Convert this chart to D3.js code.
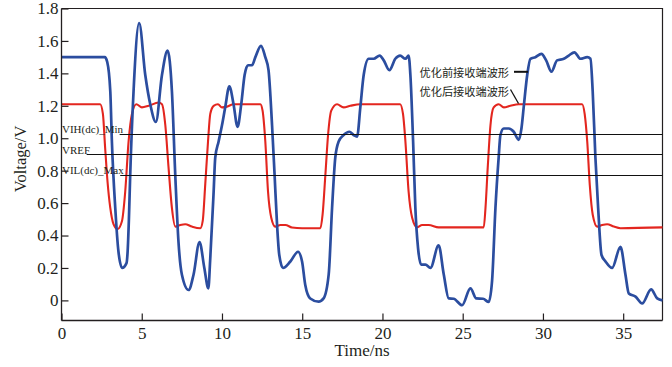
<!DOCTYPE html>
<html><head><meta charset="utf-8">
<script src="https://cdn.jsdelivr.net/npm/d3@7"></script>
<style>
html,body{margin:0;padding:0;background:#fff;}
svg{display:block;}
</style></head>
<body>
<svg id="chart" width="672" height="367"></svg>
<script>
// ---- data ----
const tBlue = [0,2.7,2.85,3.04,3.14,3.35,3.55,3.78,4.05,4.12,4.2,4.28,4.49,4.84,5.22,5.53,5.88,6.26,6.61,6.88,7.09,7.29,7.5,7.92,8.23,8.6,8.9,9.15,9.27,9.48,9.58,9.79,10.0,10.2,10.46,10.72,10.97,11.2,11.41,11.62,11.87,12.08,12.43,12.7,12.9,13.12,13.28,13.43,13.57,13.8,14.26,14.74,14.99,15.19,15.5,16.02,16.33,16.65,16.86,17.06,17.27,17.58,17.94,18.2,18.42,18.62,18.83,19.14,19.45,19.83,20.08,20.43,20.8,21.1,21.43,21.63,21.74,21.91,22.05,22.22,22.41,22.68,22.99,23.5,23.82,24.13,24.44,24.96,25.48,25.85,26.27,26.62,26.83,27.04,27.24,27.35,27.56,27.87,28.18,28.49,28.66,28.8,29.02,29.22,29.53,29.9,30.2,30.53,30.88,31.3,31.61,31.96,32.34,32.76,32.96,33.1,33.27,33.44,33.65,33.9,34.31,34.83,35.14,35.35,35.77,36.18,36.74,37.12,37.45];
const vBlue = [1.50,1.50,1.47,1.29,0.98,0.57,0.30,0.20,0.23,0.30,0.50,0.77,1.29,1.71,1.39,1.21,1.10,1.39,1.54,1.29,0.77,0.36,0.16,0.064,0.16,0.36,0.20,0.074,0.26,0.67,0.88,0.98,1.08,1.19,1.32,1.21,1.07,1.21,1.39,1.45,1.45,1.50,1.57,1.50,1.42,1.08,0.77,0.47,0.28,0.20,0.24,0.30,0.24,0.095,0.012,-0.008,0.012,0.16,0.57,0.88,0.98,1.02,1.04,1.02,1.01,1.19,1.39,1.49,1.49,1.51,1.48,1.42,1.49,1.51,1.49,1.51,1.39,0.98,0.57,0.32,0.22,0.22,0.20,0.34,0.16,0.012,0.01,-0.03,0.074,0.012,0.01,-0.01,0.12,0.57,0.88,1.02,1.06,1.06,1.04,0.99,1.06,1.19,1.39,1.49,1.50,1.52,1.48,1.41,1.48,1.49,1.51,1.53,1.49,1.50,1.49,1.29,0.88,0.57,0.28,0.24,0.20,0.33,0.16,0.043,0.023,-0.019,0.068,0.012,0.0];

const tRed = [0,2.41,2.58,2.72,2.87,3.04,3.24,3.49,3.77,3.97,4.18,4.39,4.66,5.01,5.43,6.05,6.26,6.47,6.67,6.88,7.09,7.4,7.71,8.13,8.65,8.8,8.96,9.13,9.27,9.48,9.75,10.0,10.31,10.72,12.39,12.53,12.7,12.87,13.07,13.32,13.64,13.95,14.36,14.99,16.13,16.27,16.44,16.61,16.81,17.17,17.58,18.0,18.62,21.1,21.28,21.43,21.63,21.85,22.16,22.47,22.88,23.5,26.31,26.42,26.56,26.73,26.93,27.24,27.56,27.97,28.49,32.44,32.6,32.76,32.92,33.1,33.38,33.69,34.0,34.42,34.83,37.45];
const vRed = [1.21,1.21,1.15,0.94,0.73,0.57,0.47,0.44,0.49,0.67,0.98,1.15,1.21,1.19,1.20,1.22,1.21,1.08,0.82,0.57,0.455,0.465,0.47,0.455,0.445,0.49,0.72,0.98,1.15,1.20,1.21,1.19,1.195,1.21,1.21,1.17,0.98,0.67,0.51,0.455,0.465,0.465,0.45,0.445,0.445,0.53,0.77,1.02,1.17,1.21,1.19,1.20,1.21,1.21,1.15,0.98,0.67,0.51,0.45,0.465,0.465,0.45,0.45,0.57,0.82,1.08,1.19,1.21,1.19,1.20,1.21,1.21,1.15,0.98,0.71,0.53,0.455,0.465,0.47,0.455,0.445,0.45];

const refNames = ["VIH(dc)_Min","VREF","VIL(dc)_Max"];
const refValues = [1.025,0.9,0.775];

const xTicks = [0,5,10,15,20,25,30,35];
const yTicks = [0,0.2,0.4,0.6,0.8,1.0,1.2,1.4,1.6,1.8];
const yTickLabels = ["0","0.2","0.4","0.6","0.8","1.0","1.2","1.4","1.6","1.8"];
const legendLabels = ["优化前接收端波形","优化后接收端波形"];
const xTitle = "Time/ns";
const yTitle = "Voltage/V";

// ---- layout ----
const L = 61.5, R = 662.5, T = 8.5, B = 320.5;
const svg = d3.select("#chart");
const x = d3.scaleLinear().domain([0,37.45]).range([L,R]);
const y = d3.scaleLinear().domain([-0.124,1.8]).range([B,T]);
const serif = "'Liberation Serif','Times New Roman',serif";
const ink = "#231f20";

// frame (top and right)
svg.append("path")
  .attr("d", `M${L},${T}H${R}V${B}`)
  .attr("fill","none").attr("stroke",ink).attr("stroke-width",1.2);

// curves
const lineGen = (ts, vs) => d3.line()
  .x(i => x(ts[i])).y(i => y(vs[i]))
  .curve(d3.curveMonotoneX)(d3.range(ts.length));

svg.append("path").attr("d", lineGen(tRed, vRed))
  .attr("fill","none").attr("stroke","#e3261f").attr("stroke-width",2.1)
  .attr("stroke-linejoin","round");
svg.append("path").attr("d", lineGen(tBlue, vBlue))
  .attr("fill","none").attr("stroke","#2b4d9f").attr("stroke-width",2.7)
  .attr("stroke-linejoin","round");

// reference lines with labels
refNames.forEach((name, i) => {
  const yy = y(refValues[i]);
  const txt = svg.append("text").attr("x", L+0.5).attr("y", yy - 0.8)
    .attr("font-family", serif).attr("font-size", 11).attr("fill", ink)
    .text(name);
  const w = txt.node().getComputedTextLength();
  svg.append("line").attr("x1", L + w - 3).attr("x2", R)
    .attr("y1", Math.round(yy)+0.5).attr("y2", Math.round(yy)+0.5)
    .attr("stroke","#111").attr("stroke-width",1.1);
});

// axes
const yAxis = d3.axisLeft(y).tickValues(yTicks)
  .tickFormat((d,i) => yTickLabels[i]).tickSizeInner(-7).tickSizeOuter(0).tickPadding(3);
const gy = svg.append("g").attr("transform",`translate(${L},0)`).call(yAxis);
const xAxis = d3.axisBottom(x).tickValues(xTicks).tickSizeInner(-7).tickSizeOuter(0).tickPadding(6);
const gx = svg.append("g").attr("transform",`translate(0,${B})`).call(xAxis);
[gx, gy].forEach(g => {
  g.select(".domain").attr("stroke", ink).attr("stroke-width",1.3);
  g.selectAll(".tick line").attr("stroke", ink).attr("stroke-width",1.2);
  g.selectAll(".tick text").attr("font-family", serif).attr("font-size",17).attr("fill", ink);
});
gx.select(".domain").attr("d", `M${L},0H${R}`);
gy.select(".domain").attr("d", `M0,${B}V${T}`);

// axis titles
svg.append("text").attr("x",(L+R)/2).attr("y",356)
  .attr("text-anchor","middle").attr("font-family",serif).attr("font-size",17).attr("fill",ink)
  .text(xTitle);
svg.append("text").attr("transform","translate(25.5,159) rotate(-90)")
  .attr("text-anchor","middle").attr("font-family",serif).attr("font-size",16.5).attr("fill",ink)
  .text(yTitle);

// legend annotations
const cjk = "'Noto Sans CJK SC','Noto Sans',sans-serif";
svg.append("text").attr("x",419.5).attr("y",76.5)
  .attr("font-family",cjk).attr("font-size",11.2).attr("fill",ink).text(legendLabels[0]);
svg.append("text").attr("x",419.5).attr("y",95.5)
  .attr("font-family",cjk).attr("font-size",11.2).attr("fill",ink).text(legendLabels[1]);
svg.append("line").attr("x1",514).attr("x2",528).attr("y1",71.8).attr("y2",71.8)
  .attr("stroke","#111").attr("stroke-width",2);
svg.append("line").attr("x1",510.5).attr("x2",518.5).attr("y1",89.5).attr("y2",103.5)
  .attr("stroke","#111").attr("stroke-width",1.3);
</script>
</body></html>
